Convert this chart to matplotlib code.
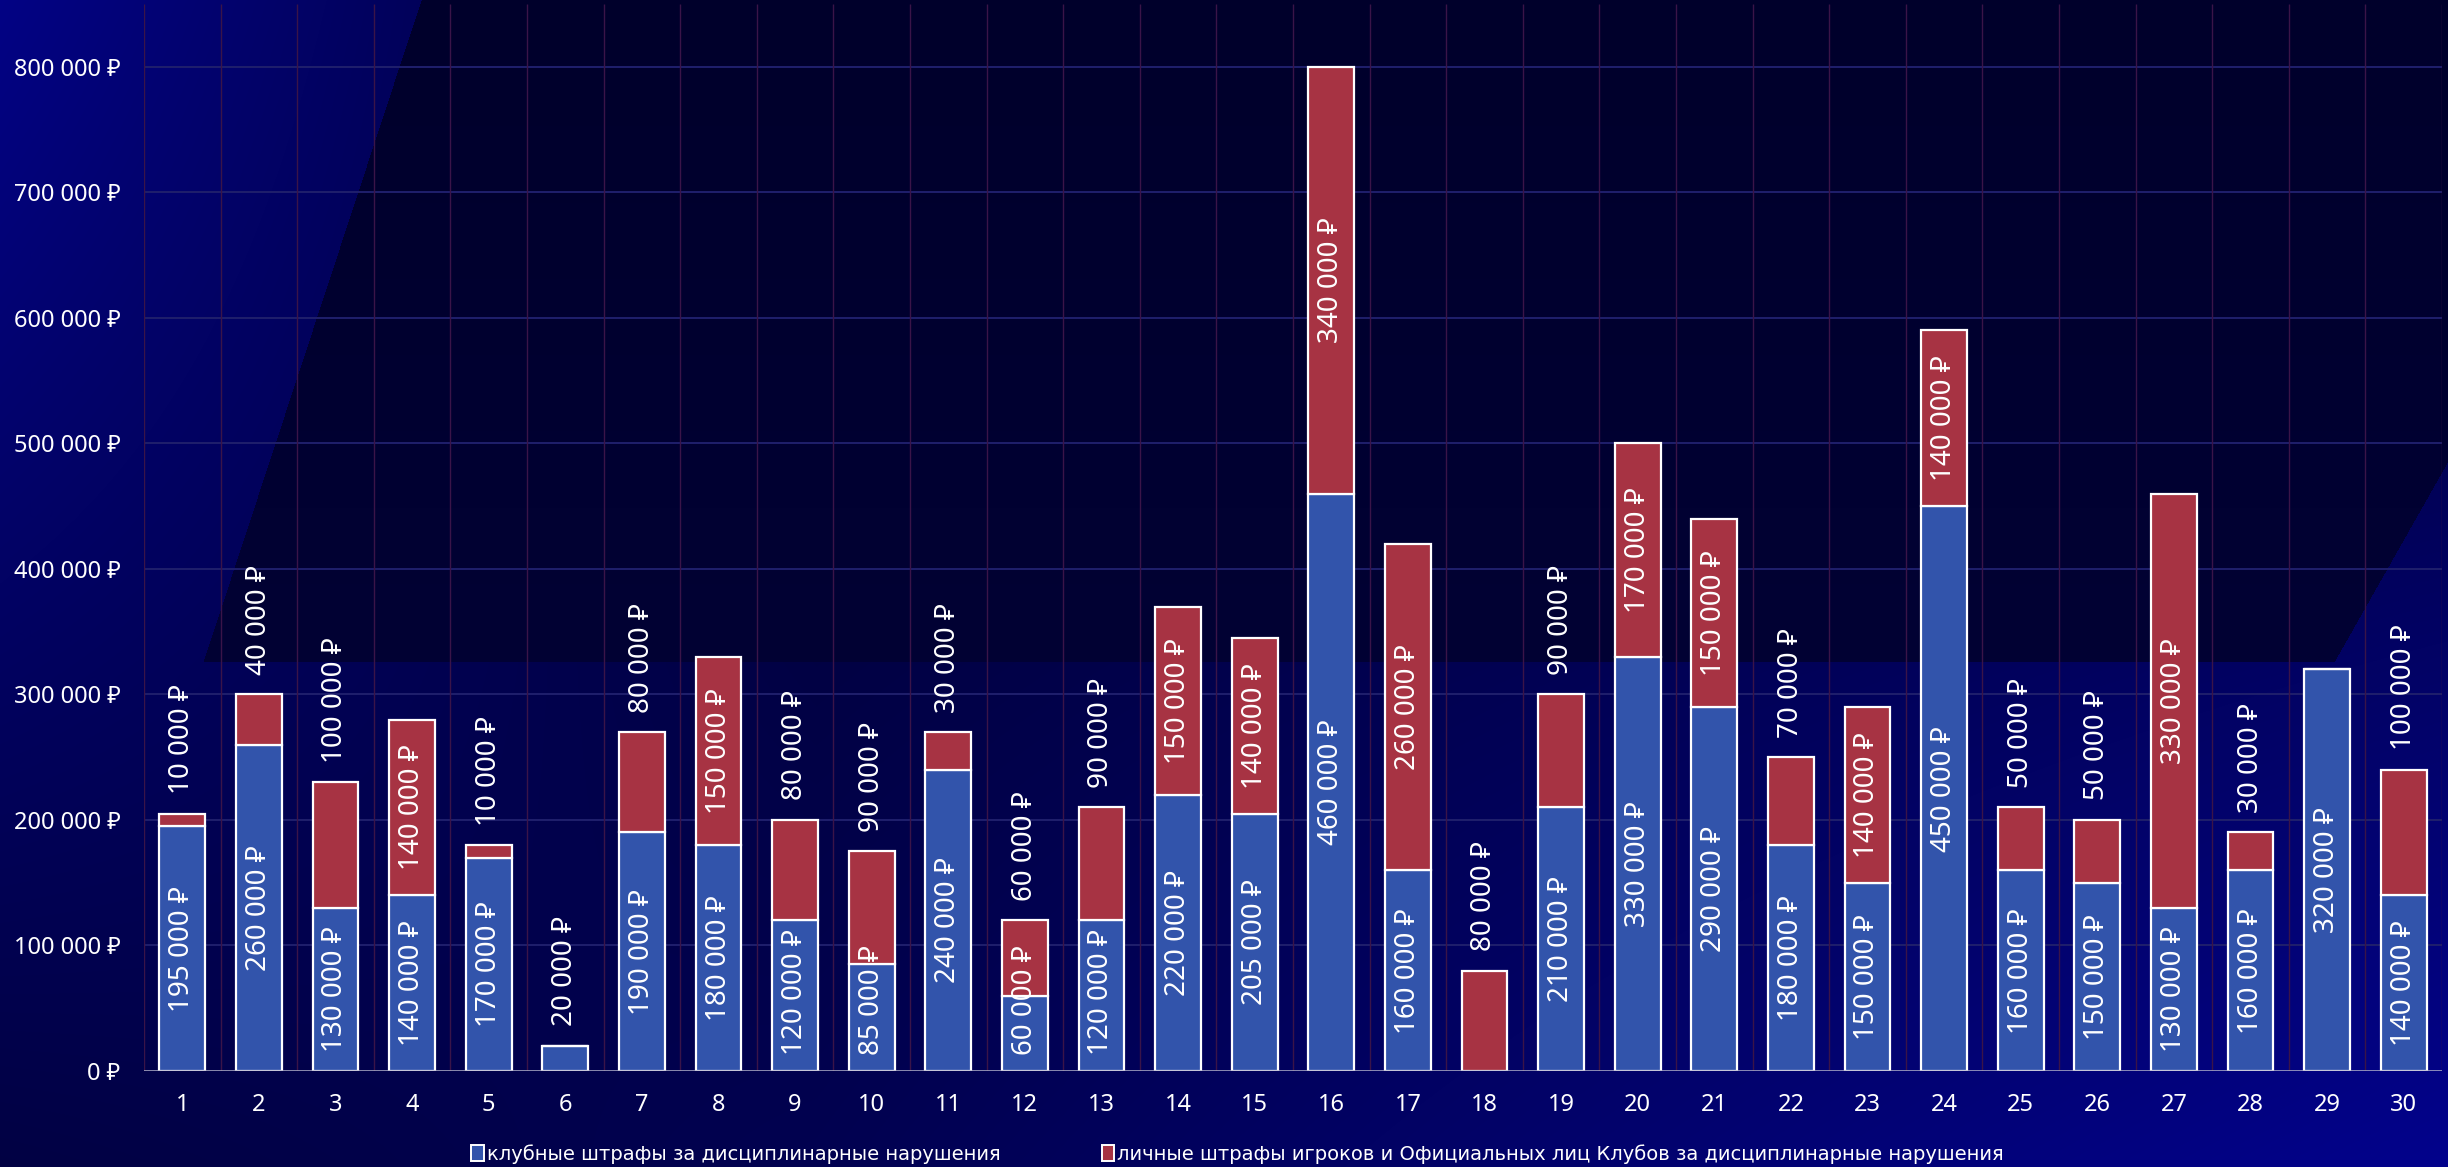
import numpy as np
import matplotlib
matplotlib.use("Agg")
import matplotlib.pyplot as plt
from matplotlib.patches import Patch

# данные по турам
days = [str(i) for i in range(1, 31)]
club_fines = [195000, 260000, 130000, 140000, 170000, 20000, 190000, 180000, 120000, 85000,
              240000, 60000, 120000, 220000, 205000, 460000, 160000, 0, 210000, 330000,
              290000, 180000, 150000, 450000, 160000, 150000, 130000, 160000, 320000, 140000]
personal_fines = [10000, 40000, 100000, 140000, 10000, 0, 80000, 150000, 80000, 90000,
                  30000, 60000, 90000, 150000, 140000, 340000, 260000, 80000, 90000, 170000,
                  150000, 70000, 140000, 140000, 50000, 50000, 330000, 30000, 0, 100000]
y_ticks = list(range(0, 800001, 100000))

legend_labels = ["клубные штрафы за дисциплинарные нарушения",
                 "личные штрафы игроков и Официальных лиц Клубов за дисциплинарные нарушения"]

BLUE = "#3254ab"
RED = "#a73343"
FONT = ["Noto Sans", "DejaVu Sans"]


def rub(v):
    return f"{v:,}".replace(",", " ") + " ₽"


W, H = 2448, 1167
fig = plt.figure(figsize=(W / 100, H / 100), dpi=100)

# фон: тёмно-синий градиент с геометрическими плоскостями
bg = fig.add_axes([0, 0, 1, 1], zorder=-10)
yy, xx = np.mgrid[0:H, 0:W].astype(float)
u, v = xx / W, yy / H
b_out = 0.20 + 0.32 * np.clip(1 - u * 3, 0, 1) * (1 - 0.8 * v) + 0.35 * u * v
b_in = 0.17 + 0.06 * v
# четырёхугольник тёмной области
left_edge = 421 - (421 - 203) * np.clip(yy / 662, 0, 1)
right_edge = np.where(yy < 461, W + 10, 2448 - (2448 - 2334) * (yy - 461) / (662 - 461))
inside = (yy < 662) & (xx > left_edge) & (xx < right_edge)
b = np.where(inside, b_in, b_out)
img = np.dstack([b * 0.02, b * 0.02, b])
bg.imshow(img, aspect="auto", extent=[0, 1, 0, 1], origin="upper")
bg.axis("off")

ax = fig.add_axes([144 / W, 96 / H, (2442 - 144) / W, (1071 - 4) / H])
ax.set_facecolor("none")
x = np.arange(len(days))

ax.set_xlim(-0.5, len(days) - 0.5)
ax.set_ylim(0, 850000)

for yt in y_ticks[1:]:
    ax.axhline(yt, color="#1f1f6c", lw=1.4, zorder=0)
ax.vlines(np.arange(len(days) + 1) - 0.5, 0, 850000, color="#3a1448", lw=1.0, zorder=0)
ax.axhline(0, color="#b4b4cc", lw=1.8, zorder=3)

ax.bar(x, club_fines, width=0.6, color=BLUE, edgecolor="white", linewidth=1.6, zorder=2)
ax.bar(x, personal_fines, width=0.6, bottom=club_fines, color=RED, edgecolor="white",
       linewidth=1.6, zorder=2)

for s in ax.spines.values():
    s.set_visible(False)
ax.set_yticks(y_ticks)
ax.set_yticklabels([rub(t) for t in y_ticks], color="white", fontsize=17, family=FONT)
ax.set_xticks(x)
ax.set_xticklabels(days, color="white", fontsize=17, family=FONT)
ax.tick_params(axis="y", length=0, pad=17)
ax.tick_params(axis="x", length=0, pad=16)

# подписи значений
inside_texts = []
for i in range(len(days)):
    bv, rv = club_fines[i], personal_fines[i]
    total = bv + rv
    if bv > 0:
        if bv >= 50000:
            t = ax.text(i, bv / 2, rub(bv), rotation=90, ha="center", va="center",
                        color="white", fontsize=20, family=FONT, zorder=4)
            inside_texts.append(t)
        else:
            ax.annotate(rub(bv), (i, total), xytext=(0, 14), textcoords="offset points",
                        rotation=90, ha="center", va="bottom", color="white",
                        fontsize=20, family=FONT, zorder=4)
    if rv > 0:
        if rv >= 120000:
            ax.text(i, bv + rv / 2, rub(rv), rotation=90, ha="center", va="center",
                    color="white", fontsize=20, family=FONT, zorder=4)
        else:
            ax.annotate(rub(rv), (i, total), xytext=(0, 14), textcoords="offset points",
                        rotation=90, ha="center", va="bottom", color="white",
                        fontsize=20, family=FONT, zorder=4)

# не даём подписям уходить ниже оси
fig.canvas.draw()
r = fig.canvas.get_renderer()
y0 = ax.transData.transform((0, 0))[1]
ppu = ax.transData.transform((0, 1))[1] - y0
for t in inside_texts:
    bb = t.get_window_extent(r)
    if bb.y0 < y0 + 16:
        xv, yv = t.get_position()
        t.set_position((xv, yv + (y0 + 16 - bb.y0) / ppu))

handles = [Patch(facecolor=BLUE, edgecolor="white", linewidth=1.4),
           Patch(facecolor=RED, edgecolor="white", linewidth=1.4)]
fig.legend(handles, legend_labels, loc="lower center", bbox_to_anchor=(0.5055, -0.012),
           ncol=2, frameon=False, handlelength=0.65, handleheight=0.9, handletextpad=0.15,
           columnspacing=5.2, labelcolor="white",
           prop={"family": "DejaVu Sans", "size": 14})

fig.savefig("out.png", dpi=100)
